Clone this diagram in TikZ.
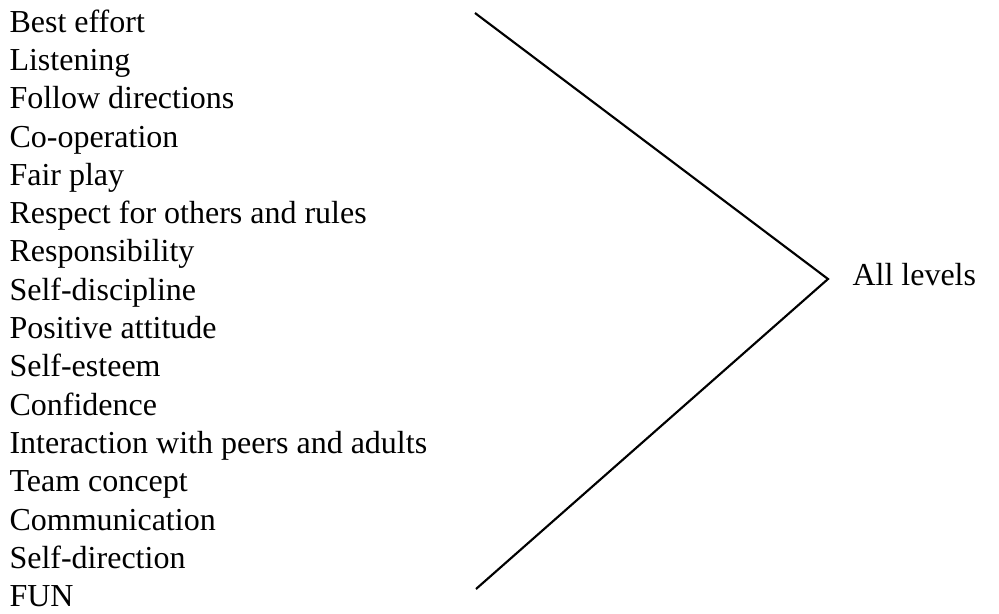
\documentclass[tikz,border=0pt]{standalone}
\usepackage{fontspec}
\setmainfont{Liberation Serif}
\begin{document}
\begin{tikzpicture}[x=0.375pt,y=-0.375pt]
		\tikzstyle{every node}+=[inner sep=0pt,anchor=base west,font=\fontsize{12}{14}\selectfont]
		\useasboundingbox (0,0) rectangle (999,613);
		\foreach \txt [count=\i from 0] in {Best effort,Listening,Follow directions,Co-operation,Fair play,Respect for others and rules,Responsibility,Self-discipline,Positive attitude,Self-esteem,Confidence,Interaction with peers and adults,Team concept,Communication,Self-direction,FUN}
			\node (item\i) at (9,{32+38.33*\i}) {\txt};
		\coordinate (top) at (475,13);
		\coordinate (tip) at (828,279);
		\coordinate (bot) at (476,589);
		\draw [black,line width=0.8pt] (top) -- (tip) -- (bot);
		\node (levels) at (852,285) {All levels};
	\end{tikzpicture}
\end{document}
